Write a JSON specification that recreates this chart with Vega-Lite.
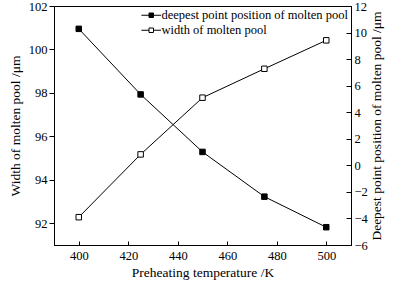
{
  "$schema": "https://vega.github.io/schema/vega-lite/v6.json",
  "width": 297,
  "height": 239,
  "autosize": {"type": "none"},
  "padding": {"left": 54, "top": 6, "right": 49, "bottom": 37},
  "background": "white",
  "config": {
    "font": "Liberation Serif",
    "view": {"stroke": "black", "strokeWidth": 1},
    "axis": {
      "labelFont": "Liberation Serif",
      "titleFont": "Liberation Serif",
      "labelFontSize": 12.5,
      "titleFontSize": 13.5,
      "titleFontWeight": "normal",
      "labelColor": "black",
      "titleColor": "black",
      "domainColor": "black",
      "tickColor": "black",
      "grid": false
    },
    "legend": {"labelFont": "Liberation Serif", "labelFontSize": 12.5, "labelColor": "black", "labelLimit": 400}
  },
  "data": {
    "values": [
      {"T": 400, "value": 92.28, "series": "width of molten pool"},
      {"T": 425, "value": 95.17, "series": "width of molten pool"},
      {"T": 450, "value": 97.78, "series": "width of molten pool"},
      {"T": 475, "value": 99.11, "series": "width of molten pool"},
      {"T": 500, "value": 100.42, "series": "width of molten pool"},
      {"T": 400, "value": 10.28, "series": "deepest point position of molten pool"},
      {"T": 425, "value": 5.34, "series": "deepest point position of molten pool"},
      {"T": 450, "value": 1.01, "series": "deepest point position of molten pool"},
      {"T": 475, "value": -2.36, "series": "deepest point position of molten pool"},
      {"T": 500, "value": -4.66, "series": "deepest point position of molten pool"}
    ]
  },
  "encoding": {
    "x": {
      "field": "T", "type": "quantitative",
      "scale": {"domain": [390, 510], "nice": false},
      "axis": {"values": [400, 420, 440, 460, 480, 500], "title": "Preheating temperature /K", "tickSize": -4, "labelPadding": 8, "titlePadding": 4}
    }
  },
  "layer": [
    {
      "transform": [{"filter": "datum.series == 'width of molten pool'"}],
      "encoding": {
        "y": {
          "field": "value", "type": "quantitative",
          "scale": {"domain": [91, 102], "nice": false, "zero": false},
          "axis": {"orient": "left", "values": [92, 94, 96, 98, 100, 102], "title": "Width of molten pool /μm", "tickSize": 5, "labelPadding": 2, "titlePadding": 6}
        }
      },
      "layer": [
        {"mark": {"type": "line", "color": "black", "strokeWidth": 1}},
        {
          "mark": {"type": "point", "shape": "square", "size": 30, "stroke": "black", "strokeWidth": 1, "opacity": 1, "filled": false},
          "encoding": {
            "fill": {
              "field": "series", "type": "nominal",
              "scale": {"domain": ["deepest point position of molten pool", "width of molten pool"], "range": ["black", "white"]},
              "legend": {
                "title": null, "orient": "top-right", "offset": 3,
                "symbolType": "M-2.2,0H-0.5M0.5,0H2.2M-0.5,-0.5H0.5V0.5H-0.5Z",
                "symbolSize": 80, "symbolStrokeColor": "black", "symbolStrokeWidth": 1,
                "rowPadding": 2, "labelOffset": 4
              }
            }
          }
        }
      ]
    },
    {
      "transform": [{"filter": "datum.series == 'deepest point position of molten pool'"}],
      "encoding": {
        "y": {
          "field": "value", "type": "quantitative",
          "scale": {"domain": [-6, 12], "nice": false, "zero": false},
          "axis": {"orient": "right", "values": [-6, -4, -2, 0, 2, 4, 6, 8, 10, 12], "title": "Deepest point position of molten pool /μm", "titleAngle": 270, "titleBaseline": "bottom", "tickSize": -5, "labelPadding": 8, "titlePadding": 16}
        }
      },
      "layer": [
        {"mark": {"type": "line", "color": "black", "strokeWidth": 1}},
        {
          "mark": {"type": "point", "shape": "square", "size": 30, "stroke": "black", "strokeWidth": 1, "opacity": 1, "filled": false},
          "encoding": {
            "fill": {"field": "series", "type": "nominal"}
          }
        }
      ]
    }
  ],
  "resolve": {"scale": {"y": "independent", "fill": "shared"}}
}
